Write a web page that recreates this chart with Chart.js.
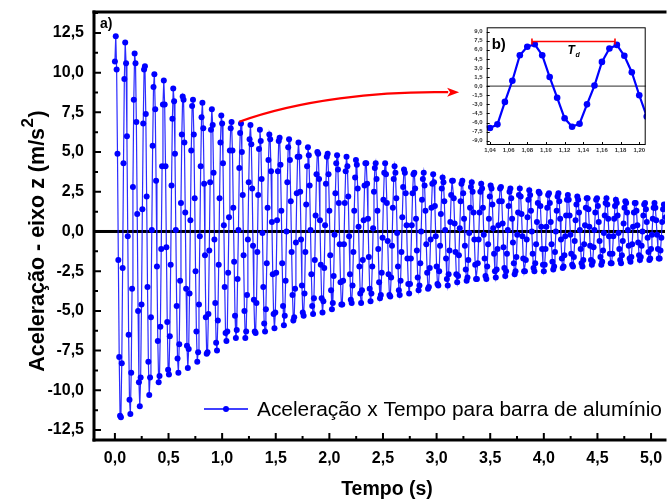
<!DOCTYPE html>
<html>
<head>
<meta charset="utf-8">
<script src="https://cdn.jsdelivr.net/npm/chart.js@4.4.1/dist/chart.umd.min.js"></script>
<style>
  html, body { margin: 0; padding: 0; background: #fff; }
  #wrap { position: relative; width: 668px; height: 501px; overflow: hidden; background: #fff; }
  #main { position: absolute; left: 0; top: 0; }
  #inset { position: absolute; left: 455px; top: 20px; }
</style>
</head>
<body>
<div id="wrap">
  <canvas id="main" width="668" height="501"></canvas>
  <canvas id="inset" width="200" height="140"></canvas>
</div>
<script>
// Accelerometer record, z axis, aluminium bar (m/s^2), one sample every 8 ms
const sampleInterval = 0.008;
const acceleration = [
  10.7, 12.3, 10.2, 4.9, -1.8, -7.9, -11.6, -11.7, -8.3, -2.3,
  4.3, 9.6, 11.9, 10.6, 6.0, -0.3, -6.5, -10.6, -11.5, -8.9,
  -3.6, 2.8, 8.3, 11.2, 10.6, 6.9, 1.1, -5.0, -9.5, -11.0,
  -9.2, -4.6, 1.4, 6.8, 10.2, 10.4, 7.4, 2.2, -3.5, -8.2,
  -10.3, -9.2, -5.4, 0.1, 5.4, 9.1, 9.9, 7.7, 3.2, -2.2,
  -6.9, -9.5, -9.1, -6.0, -1.1, 4.1, 8.0, 9.5, 8.0, 4.1,
  -1.0, -5.7, -8.7, -9.0, -6.6, -2.1, 2.9, 7.1, 9.0, 8.2,
  4.9, 0.1, -4.7, -8.0, -8.9, -7.1, -3.1, 1.8, 6.1, 8.5,
  8.3, 5.6, 1.2, -3.6, -7.2, -8.6, -7.4, -3.9, 0.7, 5.1,
  7.9, 8.3, 6.1, 2.1, -2.5, -6.3, -8.2, -7.6, -4.6, -0.3,
  4.1, 7.2, 8.1, 6.5, 3.0, -1.5, -5.4, -7.7, -7.6, -5.2,
  -1.2, 3.1, 6.4, 7.7, 6.7, 3.7, -0.5, -4.5, -7.0, -7.5,
  -5.6, -2.1, 2.1, 5.6, 7.3, 6.8, 4.3, 0.4, -3.5, -6.4,
  -6.9, -6.3, -2.6, 0.9, 5.1, 6.5, 6.9, 5.1, 1.5, -1.9,
  -5.3, -6.7, -6.2, -3.0, 0.1, 4.0, 6.2, 6.8, 5.0, 2.3,
  -1.5, -5.0, -6.7, -6.3, -4.0, -0.5, 3.1, 5.8, 6.7, 5.5,
  2.7, -0.9, -4.3, -6.3, -6.4, -4.5, -1.3, 2.3, 5.2, 6.4,
  5.7, 3.3, -0.1, -3.5, -5.8, -6.3, -4.9, -2.0, 1.5, 4.5,
  6.1, 5.8, 3.8, 0.6, -2.7, -5.2, -6.1, -5.1, -2.6, 0.7,
  3.8, 5.7, 5.9, 4.2, 1.3, -2.0, -4.7, -5.9, -5.3, -3.1,
  0.0, 3.1, 5.3, 5.8, 4.5, 1.9, -1.3, -4.0, -5.6, -5.4,
  -3.6, -0.7, 2.4, 4.7, 5.6, 4.7, 2.5, -0.5, -3.4, -5.1,
  -5.3, -3.9, -1.3, 1.7, 4.1, 5.3, 4.8, 2.9, 0.1, -2.7,
  -4.7, -5.2, -4.2, -1.8, 1.0, 3.6, 5.0, 4.9, 3.3, 0.7,
  -2.1, -4.2, -5.1, -4.4, -2.3, 0.4, 3.0, 4.7, 4.9, 3.6,
  1.3, -1.5, -3.7, -4.9, -4.5, -2.8, -0.2, 2.4, 4.3, 4.8,
  3.9, 1.8, -0.8, -3.2, -4.6, -4.6, -3.1, -0.8, 1.8, 3.8,
  4.7, 4.1, 2.2, -0.3, -2.7, -4.3, -4.5, -3.4, -1.3, 1.3,
  3.4, 4.5, 4.2, 2.7, 0.3, -2.2, -3.9, -4.5, -3.7, -1.8,
  0.7, 2.9, 4.3, 4.3, 3.0, 0.8, -1.6, -3.6, -4.4, -3.9,
  -2.2, 0.2, 2.5, 4.0, 4.3, 3.3, 1.3, -1.1, -3.2, -4.2,
  -4.0, -2.6, -0.4, 2.0, 3.7, 4.3, 3.6, 1.8, -0.6, -2.7,
  -4.0, -4.1, -2.9, -0.9, 1.5, 3.3, 4.1, 3.7, 2.1, -0.1,
  -2.2, -3.7, -4.0, -3.1, -1.3, 0.9, 2.8, 3.9, 3.7, 2.4,
  0.4, -1.7, -3.3, -3.9, -3.3, -1.7, 0.4, 2.4, 3.6, 3.7,
  2.7, 0.8, -1.2, -2.9, -3.7, -3.4, -2.0, 0.0, 2.0, 3.3,
  3.7, 2.9, 1.3, -0.8, -2.6, -3.6, -3.5, -2.3, -0.5, 1.5,
  3.0, 3.6, 3.1, 1.6, -0.3, -2.2, -3.3, -3.4, -2.5, -0.9,
  1.1, 2.7, 3.4, 3.1, 1.9, 0.1, -1.7, -3.0, -3.4, -2.7,
  -1.2, 0.6, 2.3, 3.2, 3.2, 2.1, 0.5, -1.3, -2.7, -3.2,
  -2.8, -1.5, 0.2, 1.9, 3.0, 3.2, 2.4, 0.8, -0.9, -2.4,
  -3.1, -2.9, -1.8, -0.1, 1.5, 2.8, 3.1, 2.5, 1.2, -0.5,
  -2.1, -3.0, -3.0, -2.0, -0.5, 1.2, 2.5, 3.0, 2.7, 1.5,
  -0.2, -1.7, -2.8, -3.0, -2.2, -0.8, 0.8, 2.2, 2.9, 2.7,
  1.7, 0.2, -1.4, -2.5, -2.9, -2.4, -1.1, 0.4, 1.9, 2.7,
  2.8, 1.9, 0.5, -1.0, -2.3, -2.8, -2.5, -1.4, 0.1, 1.6,
  2.5, 2.7, 2.1, 0.8, -0.7, -2.0, -2.7, -2.5, -1.6, -0.2,
  1.2, 2.3, 2.7, 2.2, 1.1, -0.3, -1.7, -2.5, -2.5, -1.8,
  -0.5, 0.9, 2.0, 2.6, 2.3, 1.3, 0.0, -1.4, -2.3, -2.5,
  -2.0, -0.8, 0.6, 1.8, 2.5, 2.4, 1.6, 0.3, -1.1, -2.1,
  -2.5, -2.1, -1.1, 0.3, 1.5, 2.3, 2.4, 1.8, 0.6, -0.8,
  -1.9, -2.4, -2.2, -1.3, 0.0, 1.3, 2.2, 2.4, 1.9, 0.8,
  -0.5, -1.7, -2.3, -2.2, -1.5, -0.3, 1.0, 2.0, 2.3, 2.0,
  1.0, -0.2, -1.4, -2.1, -2.2, -1.6, -0.6, 0.7, 1.7, 2.2,
  2.0, 1.2, 0.1, -1.1, -2.0, -2.2, -1.8, -0.8, 0.4, 1.5,
  2.1, 2.1, 1.4, 0.3, -0.9, -1.8, -2.1, -1.9, -1.0, 0.1,
  1.2, 2.0, 2.1, 1.6, 0.6, -0.6, -1.6, -2.1, -1.9, -1.2,
  -0.1, 1.0, 1.8, 2.1, 1.7, 0.8, -0.3, -1.4, -2.0, -2.0,
  -1.4, -0.3, 0.8, 1.6, 2.0, 1.8, 1.0, -0.1, -1.1, -1.8,
  -2.0, -1.5, -0.6, 0.5, 1.5, 1.9, 1.8, 1.2, 0.1, -0.9,
  -1.7, -1.9, -1.6, -0.8, 0.3, 1.2, 1.8, 1.8, 1.3, 0.4,
  -0.7, -1.5, -1.8, -1.6, -0.9, 0.0, 1.0, 1.7, 1.8, 1.4,
  0.6, -0.4, -1.3, -1.8, -1.7, -1.1, -0.2, 0.8, 1.5, 1.8,
  1.5, 0.7, -0.2, -1.1, -1.7, -1.7, -1.2, -0.4, 0.6, 1.4,
  1.7, 1.6, 0.9
];

// Axis ticks (main plot and detail view)
const xTickValues = [0, 0.5, 1, 1.5, 2, 2.5, 3, 3.5, 4, 4.5, 5];
const yTickValues = [-12.5, -10, -7.5, -5, -2.5, 0, 2.5, 5, 7.5, 10, 12.5];
const insetXTicks = [1.04, 1.06, 1.08, 1.10, 1.12, 1.14, 1.16, 1.18, 1.20];
const insetYTicks = [-9, -7.5, -6, -4.5, -3, -1.5, 0, 1.5, 3, 4.5, 6, 7.5, 9];

// Detail window (s) and the damped period Td marked in it
const insetWindow = [1.0365, 1.2069];
const periodStart = 1.085;
const periodEnd = 1.174;
const periodLevel = 7.35;

const seriesLabel = 'Aceleração x Tempo para barra de alumínio';
const xTitle = 'Tempo (s)';
const yTitle = 'Aceleração - eixo z (m/s';

// Pointer from the main trace to the detail view, in main-plot units (s, m/s^2)
const pointerCurve = [[1.16, 6.91], [1.716, 8.28], [2.458, 8.85], [3.108, 8.77]];
const pointerTip = [3.21, 8.77];

const FONT = '"Liberation Sans", Arial, Helvetica, sans-serif';
const BLUE = '#0000ff';

const points = acceleration.map((v, i) => ({ x: +(i * sampleInterval).toFixed(3), y: v }));
const insetPoints = points.filter(p => p.x >= insetWindow[0] - sampleInterval && p.x <= insetWindow[1] + sampleInterval);

function fmt(v, d) { return v.toFixed(d).replace('.', ','); }

// keep the plot box exactly where the layout puts it (no extra label overhang)
function noOverhang(s) {
  s.paddingTop = 0; s.paddingBottom = 0; s.paddingLeft = 0; s.paddingRight = 0;
}

const mainDecor = {
  id: 'mainDecor',
  beforeDatasetsDraw(chart) {
    const { ctx, chartArea: a, scales: { y } } = chart;
    const y0 = y.getPixelForValue(0);
    ctx.save();
    ctx.fillStyle = '#000';
    ctx.fillRect(a.left, y0 - 1.5, a.right - a.left, 3);
    ctx.restore();
  },
  afterDraw(chart) {
    const { ctx, chartArea: a, scales: { x, y } } = chart;
    ctx.save();
    ctx.fillStyle = '#000';
    // frame: left, bottom and top edges
    ctx.fillRect(a.left - 1.5, a.top - 1.5, 3, a.bottom - a.top + 3);
    ctx.fillRect(a.left - 1.5, a.bottom - 1.5, a.right - a.left + 3, 3);
    ctx.fillRect(a.left - 1.5, a.top - 1.5, a.right - a.left + 3, 3);

    // inward ticks, major and minor
    ctx.strokeStyle = '#000';
    ctx.lineWidth = 2;
    ctx.beginPath();
    const yStep = yTickValues[1] - yTickValues[0];
    yTickValues.forEach(v => {
      const p = y.getPixelForValue(v);
      ctx.moveTo(a.left, p); ctx.lineTo(a.left + 7, p);
    });
    for (let v = yTickValues[0] - yStep / 2; v <= y.max; v += yStep) {
      if (v < y.min) continue;
      const p = y.getPixelForValue(v);
      ctx.moveTo(a.left, p); ctx.lineTo(a.left + 4, p);
    }
    const xStep = xTickValues[1] - xTickValues[0];
    xTickValues.forEach(v => {
      const p = x.getPixelForValue(v);
      ctx.moveTo(p, a.bottom); ctx.lineTo(p, a.bottom - 7);
    });
    for (let v = xTickValues[0] - xStep / 2; v <= x.max; v += xStep) {
      if (v < x.min) continue;
      const p = x.getPixelForValue(v);
      ctx.moveTo(p, a.bottom); ctx.lineTo(p, a.bottom - 4);
    }
    ctx.stroke();

    // x title
    ctx.font = 'bold 19.5px ' + FONT;
    ctx.textAlign = 'center';
    ctx.textBaseline = 'middle';
    ctx.fillText(xTitle, 387, 490);

    // y title with superscript
    ctx.save();
    ctx.translate(36, 241);
    ctx.rotate(-Math.PI / 2);
    ctx.textAlign = 'left';
    ctx.textBaseline = 'alphabetic';
    const ts = 21.5;
    ctx.font = 'bold ' + ts + 'px ' + FONT;
    const wMain = ctx.measureText(yTitle).width;
    const wClose = ctx.measureText(')').width;
    ctx.font = 'bold 17px ' + FONT;
    const wSup = ctx.measureText('2').width;
    const sx = -(wMain + wSup + wClose + 1) / 2;
    const base = 8;
    ctx.font = 'bold ' + ts + 'px ' + FONT;
    ctx.fillText(yTitle, sx, base);
    ctx.font = 'bold 17px ' + FONT;
    ctx.fillText('2', sx + wMain + 0.5, base - 11);
    ctx.font = 'bold ' + ts + 'px ' + FONT;
    ctx.fillText(')', sx + wMain + wSup + 1, base);
    ctx.restore();

    // panel label
    ctx.font = 'bold 14px ' + FONT;
    ctx.textAlign = 'left';
    ctx.textBaseline = 'alphabetic';
    ctx.fillText('a)', a.left + 6, a.top + 16);

    // legend
    const ly = 409;
    ctx.strokeStyle = BLUE;
    ctx.lineWidth = 1.3;
    ctx.beginPath(); ctx.moveTo(204, ly); ctx.lineTo(248, ly); ctx.stroke();
    ctx.fillStyle = BLUE;
    ctx.beginPath(); ctx.arc(226, ly, 3, 0, Math.PI * 2); ctx.fill();
    ctx.fillStyle = '#000';
    ctx.font = '20px ' + FONT;
    const w20 = ctx.measureText(seriesLabel).width;
    const fs = 20 * 405 / w20;
    ctx.font = fs.toFixed(2) + 'px ' + FONT;
    ctx.fillText(seriesLabel, 257, 416);

    // pointer arrow to the detail view
    const px = p => [x.getPixelForValue(p[0]), y.getPixelForValue(p[1])];
    const [p0, c1, c2, p3] = pointerCurve.map(px);
    const tip = px(pointerTip);
    ctx.strokeStyle = '#ff0000';
    ctx.fillStyle = '#ff0000';
    ctx.lineWidth = 2.2;
    ctx.beginPath();
    ctx.moveTo(p0[0], p0[1]);
    ctx.bezierCurveTo(c1[0], c1[1], c2[0], c2[1], p3[0], p3[1]);
    ctx.stroke();
    ctx.beginPath();
    ctx.moveTo(tip[0], tip[1]);
    ctx.lineTo(tip[0] - 12, tip[1] - 4.5);
    ctx.lineTo(tip[0] - 9, tip[1]);
    ctx.lineTo(tip[0] - 12, tip[1] + 4.5);
    ctx.closePath();
    ctx.fill();
    ctx.restore();
  }
};

new Chart(document.getElementById('main'), {
  type: 'line',
  data: {
    datasets: [{
      label: seriesLabel,
      data: points,
      borderColor: 'rgba(20,20,255,0.9)',
      borderWidth: 1.2,
      pointRadius: 3,
      pointHoverRadius: 3,
      pointBackgroundColor: BLUE,
      pointBorderWidth: 0,
      tension: 0
    }]
  },
  options: {
    responsive: false,
    animation: false,
    devicePixelRatio: 1,
    events: [],
    layout: { padding: { top: 12, right: 0, left: 0, bottom: 0 } },
    plugins: { legend: { display: false }, tooltip: { enabled: false } },
    scales: {
      x: {
        type: 'linear',
        min: -0.195,
        max: 5.13,
        afterBuildTicks: s => { s.ticks = xTickValues.map(v => ({ value: v })); },
        afterFit: s => { s.height = 61; noOverhang(s); },
        grid: { display: false, drawTicks: false },
        border: { display: false },
        ticks: {
          callback: v => fmt(v, 1),
          font: { family: FONT, size: 16, weight: 'bold' },
          color: '#000',
          padding: 9,
          maxRotation: 0,
          autoSkip: false
        }
      },
      y: {
        type: 'linear',
        min: -13.13,
        max: 13.82,
        afterBuildTicks: s => { s.ticks = yTickValues.map(v => ({ value: v })); },
        afterFit: s => { s.width = 94; noOverhang(s); },
        grid: { display: false, drawTicks: false },
        border: { display: false },
        ticks: {
          callback: v => fmt(v, 1),
          font: { family: FONT, size: 16, weight: 'bold' },
          color: '#000',
          padding: 10,
          autoSkip: false
        }
      }
    }
  },
  plugins: [mainDecor]
});

const insetDecor = {
  id: 'insetDecor',
  beforeDatasetsDraw(chart) {
    const { ctx, chartArea: a, scales: { y } } = chart;
    const y0 = y.getPixelForValue(0);
    ctx.save();
    ctx.strokeStyle = '#555';
    ctx.lineWidth = 1.2;
    ctx.beginPath(); ctx.moveTo(a.left, y0); ctx.lineTo(a.right, y0); ctx.stroke();
    ctx.restore();
  },
  afterDraw(chart) {
    const { ctx, chartArea: a, scales: { x, y } } = chart;
    ctx.save();
    ctx.strokeStyle = '#000';
    ctx.lineWidth = 1;
    ctx.strokeRect(a.left + 0.5, a.top + 0.5, a.right - a.left - 1, a.bottom - a.top - 1);
    ctx.beginPath();
    insetYTicks.forEach(v => {
      const p = Math.round(y.getPixelForValue(v)) + 0.5;
      ctx.moveTo(a.left, p); ctx.lineTo(a.left + 3, p);
    });
    insetXTicks.forEach(v => {
      const p = Math.round(x.getPixelForValue(v)) + 0.5;
      ctx.moveTo(p, a.bottom); ctx.lineTo(p, a.bottom - 3);
    });
    ctx.stroke();

    // damped period Td
    const xs = x.getPixelForValue(periodStart);
    const xe = x.getPixelForValue(periodEnd);
    const yl = y.getPixelForValue(periodLevel);
    ctx.strokeStyle = '#ff0000';
    ctx.lineWidth = 1.6;
    ctx.beginPath();
    ctx.moveTo(xs, yl); ctx.lineTo(xe, yl);
    ctx.moveTo(xs, yl - 3); ctx.lineTo(xs, yl + 3);
    ctx.moveTo(xe, yl - 3); ctx.lineTo(xe, yl + 3);
    ctx.stroke();
    ctx.fillStyle = '#000';
    ctx.textBaseline = 'alphabetic';
    ctx.textAlign = 'left';
    const xm = (xs + xe) / 2;
    ctx.font = 'italic bold 12px ' + FONT;
    ctx.fillText('T', xm - 6, yl + 12);
    ctx.font = 'italic bold 7px ' + FONT;
    ctx.fillText('d', xm + 2, yl + 15);

    ctx.font = 'bold 15px ' + FONT;
    ctx.fillText('b)', a.left + 5, a.top + 22);
    ctx.restore();
  }
};

new Chart(document.getElementById('inset'), {
  type: 'line',
  data: {
    datasets: [{
      data: insetPoints,
      borderColor: BLUE,
      borderWidth: 2.2,
      pointRadius: 3.3,
      pointHoverRadius: 3.3,
      pointBackgroundColor: BLUE,
      pointBorderWidth: 0,
      tension: 0
    }]
  },
  options: {
    responsive: false,
    animation: false,
    devicePixelRatio: 1,
    events: [],
    layout: { padding: { top: 7.3, right: 9.3, left: 0, bottom: 0 } },
    plugins: { legend: { display: false }, tooltip: { enabled: false } },
    scales: {
      x: {
        type: 'linear',
        min: insetWindow[0],
        max: insetWindow[1],
        afterBuildTicks: s => { s.ticks = insetXTicks.map(v => ({ value: v })); },
        afterFit: s => { s.height = 15; noOverhang(s); },
        grid: { display: false, drawTicks: false },
        border: { display: false },
        ticks: {
          callback: v => fmt(v, 2),
          font: { family: FONT, size: 6, weight: 'bold' },
          color: '#333',
          padding: 2,
          maxRotation: 0,
          autoSkip: false
        }
      },
      y: {
        type: 'linear',
        min: -9.7,
        max: 9.7,
        afterBuildTicks: s => { s.ticks = insetYTicks.map(v => ({ value: v })); },
        afterFit: s => { s.width = 31.7; noOverhang(s); },
        grid: { display: false, drawTicks: false },
        border: { display: false },
        ticks: {
          callback: v => fmt(v, 1),
          font: { family: FONT, size: 6, weight: 'bold' },
          color: '#333',
          padding: 4,
          autoSkip: false
        }
      }
    }
  },
  plugins: [insetDecor]
});
</script>
</body>
</html>
